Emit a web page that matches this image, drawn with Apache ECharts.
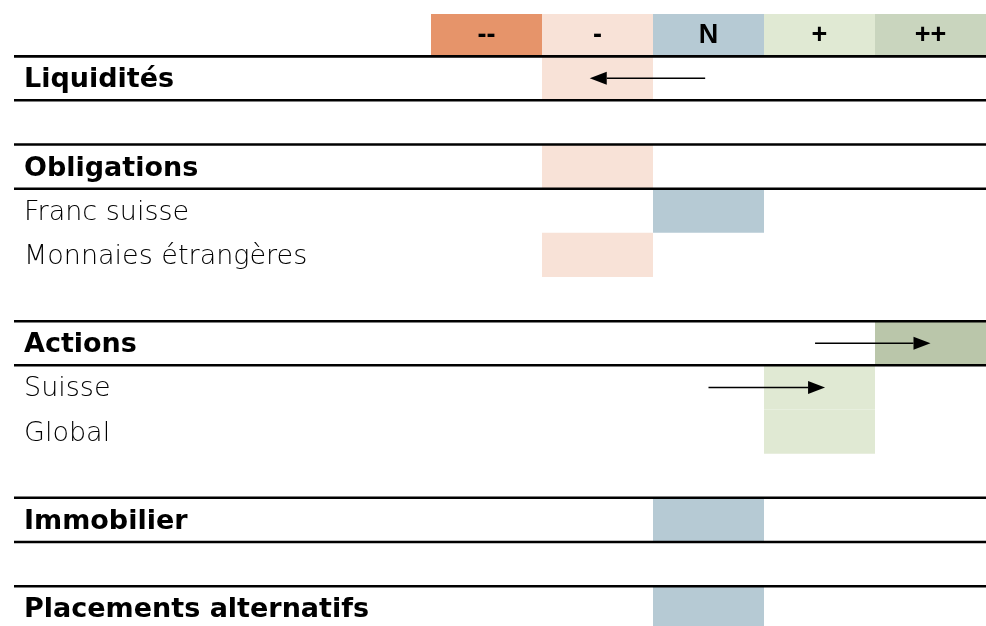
<!DOCTYPE html>
<html>
<head>
<meta charset="utf-8">
<script src="https://cdn.jsdelivr.net/npm/echarts@6/dist/echarts.min.js"></script>
<style>
  html, body { margin: 0; padding: 0; background: #ffffff; }
  #chart { width: 986px; height: 626px; }
</style>
</head>
<body>
<div id="chart"></div>
<script>
// Positioning scale, left (underweight) to right (overweight)
const levels = ['--', '-', 'N', '+', '++'];
const headerColors = ['#E6946A', '#F8E2D7', '#B6CAD4', '#E0E9D3', '#C9D5BE'];

// Table rows; row 0 is the scale header, empty strings are spacer rows
const rowLabels = ['', 'Liquidités', '', 'Obligations', 'Franc suisse', 'Monnaies étrangères', '',
  'Actions', 'Suisse', 'Global', '', 'Immobilier', '', 'Placements alternatifs'];
const headings = ['Liquidités', 'Obligations', 'Actions', 'Immobilier', 'Placements alternatifs'];

// Current positioning per asset class
const positionRows = ['Liquidités', 'Obligations', 'Franc suisse', 'Monnaies étrangères',
  'Actions', 'Suisse', 'Global', 'Immobilier', 'Placements alternatifs'];
const positionLevels = ['-', '-', 'N', '-', '++', '+', '+', 'N', 'N'];
const cellColors = { '--': '#E6946A', '-': '#F8E2D7', 'N': '#B6CAD4', '+': '#E0E9D3', '++': '#BAC6AA' };

// Changes since the previous assessment (arrow start / end on the level scale)
const shiftRows = ['Liquidités', 'Actions', 'Suisse'];
const shiftFrom = [2.47, 3.46, 2.50];
const shiftTo = [1.43, 4.50, 3.55];

const LABEL_AREA = 417;   // width of the text column left of the grid
const ROW_H = 44.17;

const rowIndex = name => rowLabels.indexOf(name);

// cells: [levelIndex, rowIndex, fill, text]
const cellData = [];
levels.forEach((lv, i) => cellData.push([i, 0, headerColors[i], lv]));
positionRows.forEach((r, i) => {
  const li = levels.indexOf(positionLevels[i]);
  cellData.push([li, rowIndex(r), cellColors[positionLevels[i]], '']);
});

// separator rules: row index + side (0 = top, 1 = bottom)
const ruleData = [[0, 1]];
headings.forEach(h => { ruleData.push([rowIndex(h), 0]); ruleData.push([rowIndex(h), 1]); });

const arrowData = shiftRows.map((r, i) => [shiftFrom[i], rowIndex(r), shiftTo[i]]);

const chart = echarts.init(document.getElementById('chart'), null, { renderer: 'canvas' });

chart.setOption({
  backgroundColor: '#ffffff',
  animation: false,
  grid: { left: 431, right: 0, top: 12, height: ROW_H * rowLabels.length, containLabel: false, outerBoundsMode: 'none' },
  xAxis: {
    type: 'value', min: 0, max: levels.length,
    show: false
  },
  yAxis: {
    type: 'category',
    inverse: true,
    data: rowLabels.map((_, i) => i),
    axisLine: { show: false },
    axisTick: { show: false },
    splitLine: { show: false },
    axisLabel: {
      interval: 0,
      margin: 407,
      align: 'left',
      verticalAlign: 'middle',
      formatter: (v, idx) => {
        const t = rowLabels[idx];
        if (!t) return '';
        return headings.indexOf(t) >= 0 ? '{b|' + t + '}' : '{n|' + t + '}';
      },
      rich: {
        b: { fontFamily: 'DejaVu Sans', fontWeight: 'bold', fontSize: 27, color: '#000000', padding: [4, 0, 0, 0] },
        n: { fontFamily: 'DejaVu Sans', fontWeight: 200, fontSize: 27, color: '#000000', padding: [4, 0, 0, 0] }
      }
    }
  },
  series: [
    {
      type: 'custom',
      z: 1,
      data: cellData,
      renderItem: (params, api) => {
        const c = api.coord([api.value(0), api.value(1)]);
        const s = api.size([1, 1]);
        const d = cellData[params.dataIndex];
        const inset = api.value(1) === 0 ? 2 : 0;
        return {
          type: 'rect',
          shape: { x: c[0], y: c[1] - s[1] / 2 + inset, width: s[0], height: s[1] - inset },
          style: { fill: d[2] },
          textContent: d[3] ? {
            style: {
              text: d[3], fill: '#000000',
              fontFamily: 'Liberation Sans, Arial, sans-serif', fontWeight: 'bold', fontSize: 27
            }
          } : undefined,
          textConfig: { position: 'inside' }
        };
      }
    },
    {
      type: 'custom',
      z: 3,
      data: ruleData,
      renderItem: (params, api) => {
        const c = api.coord([0, api.value(0)]);
        const s = api.size([1, 1]);
        const y = c[1] + (api.value(1) ? s[1] / 2 : -s[1] / 2);
        const cs = params.coordSys;
        return {
          type: 'line',
          shape: { x1: cs.x - LABEL_AREA, y1: y, x2: cs.x + cs.width, y2: y },
          style: { stroke: '#000000', lineWidth: 2.5 }
        };
      }
    },
    {
      type: 'custom',
      z: 4,
      data: arrowData,
      renderItem: (params, api) => {
        const a = api.coord([api.value(0), api.value(1)]);
        const b = api.coord([api.value(2), api.value(1)]);
        const dir = b[0] > a[0] ? 1 : -1;
        const headLen = 17, headHalf = 6.5;
        const base = b[0] - dir * headLen;
        return {
          type: 'group',
          children: [
            {
              type: 'line',
              shape: { x1: a[0], y1: a[1], x2: base, y2: b[1] },
              style: { stroke: '#000000', lineWidth: 1.5 }
            },
            {
              type: 'polygon',
              shape: { points: [[b[0], b[1]], [base, b[1] - headHalf], [base, b[1] + headHalf]] },
              style: { fill: '#000000' }
            }
          ]
        };
      }
    }
  ]
});
</script>
</body>
</html>
